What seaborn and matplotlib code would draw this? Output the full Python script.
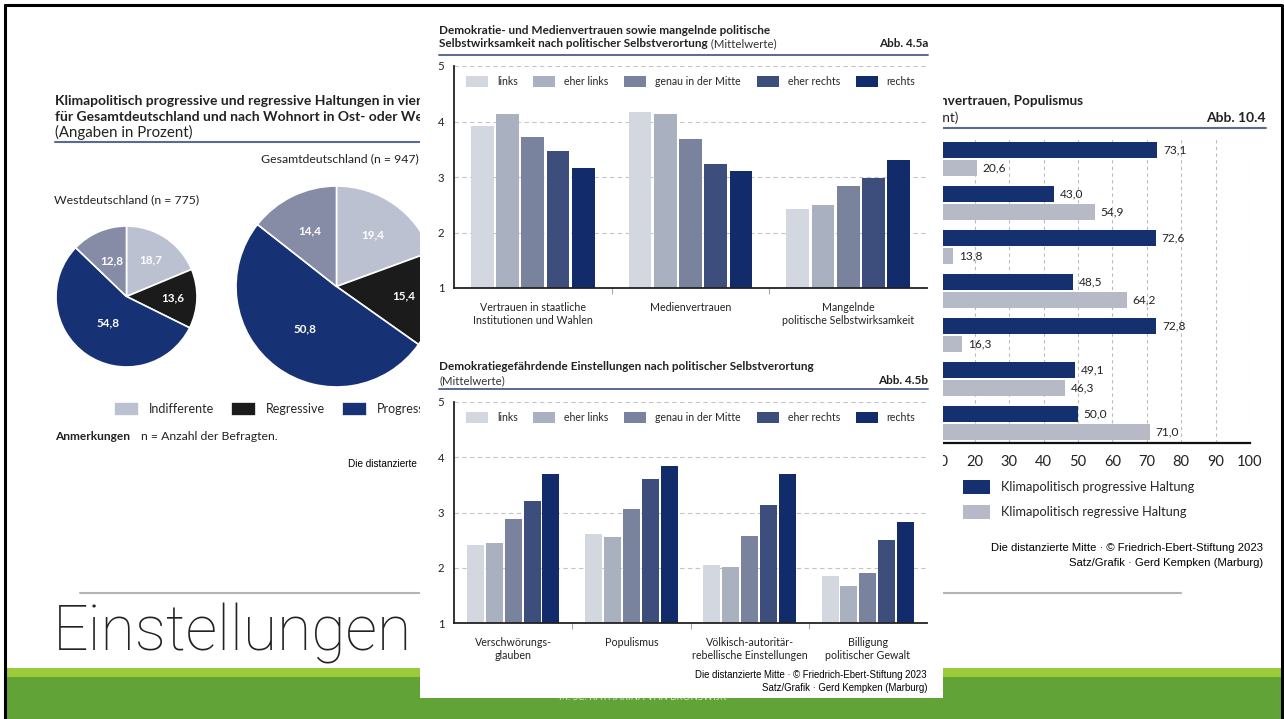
import seaborn as sns
import matplotlib.pyplot as plt
from matplotlib.patches import Rectangle
import pandas as pd
import numpy as np

W, H = 1284, 719

# ---- data -------------------------------------------------------------
pie_labels = ["Indifferente", "Regressive", "Progressive", "Ambivalente"]
pie_colors = ["#bcc1d1", "#1b1b1b", "#163274", "#868ca5"]
west_values = [18.7, 13.6, 54.8, 12.8]
gesamt_values = [19.4, 15.4, 50.8, 14.4]

positions = ["links", "eher links", "genau in der Mitte", "eher rechts", "rechts"]
pos_colors = ["#d3d8e0", "#a9b0c0", "#7a839e", "#3e4e7c", "#112b6b"]

trust_groups = ["Vertrauen in staatliche\nInstitutionen und Wahlen", "Medienvertrauen",
                "Mangelnde\npolitische Selbstwirksamkeit"]
trust_links = [3.91, 4.18, 2.43]
trust_eher_links = [4.14, 4.13, 2.49]
trust_mitte = [3.72, 3.68, 2.83]
trust_eher_rechts = [3.47, 3.24, 2.98]
trust_rechts = [3.16, 3.10, 3.31]

danger_groups = ["Verschwörungs-\nglauben", "Populismus",
                 "Völkisch-autoritär-\nrebellische Einstellungen", "Billigung\npolitischer Gewalt"]
danger_links = [2.41, 2.61, 2.05, 1.85]
danger_eher_links = [2.45, 2.56, 2.02, 1.67]
danger_mitte = [2.89, 3.06, 2.57, 1.91]
danger_eher_rechts = [3.21, 3.60, 3.13, 2.50]
danger_rechts = [3.70, 3.84, 3.69, 2.83]

klima_rows = ["Zeile 1", "Zeile 2", "Zeile 3", "Zeile 4", "Zeile 5", "Zeile 6", "Zeile 7"]
klima_attitudes = ["Klimapolitisch progressive Haltung", "Klimapolitisch regressive Haltung"]
klima_colors = ["#14306f", "#b5bac6"]
klima_progressive = [73.1, 43.0, 72.6, 48.5, 72.8, 49.1, 50.0]
klima_regressive = [20.6, 54.9, 13.8, 64.2, 16.3, 46.3, 71.0]

sns.set_theme(style="white")
plt.rcParams['font.family'] = ['Lato', 'DejaVu Sans']

TXT = "#222222"
RULE = "#5a6a90"
FOOT = ['Liberation Sans', 'DejaVu Sans']


def rect(x0, y0, x1, y1):
    # pixel box -> figure fraction
    return [x0 / W, 1 - y1 / H, (x1 - x0) / W, (y1 - y0) / H]


def de(v):
    return f"{v:.1f}".replace(".", ",")


fig = plt.figure(figsize=(W / 100, H / 100), dpi=100)

# slide background (pixel coordinates)
bg = fig.add_axes([0, 0, 1, 1], zorder=0)
bg.set_xlim(0, W)
bg.set_ylim(H, 0)
bg.axis('off')
left_clip = Rectangle((0, 0), 420, H, transform=bg.transData)
right_clip = Rectangle((943, 0), W - 943, H, transform=bg.transData)


def clip(artist, box):
    # the middle image covers these, keep them inside their own panel
    artist.set_clip_on(True)
    artist.set_clip_path(box)
    return artist


bg.add_patch(Rectangle((5, 668), 1276, 9, color="#9bcb3b", lw=0))
bg.add_patch(Rectangle((5, 677), 1276, 42, color="#62a338", lw=0))
bg.plot([4, 1282], [5, 5], color="black", lw=2.2, solid_capstyle='butt')
bg.plot([5, 5], [4, 719], color="black", lw=2.2, solid_capstyle='butt')
bg.plot([1281.5, 1281.5], [4, 719], color="black", lw=2.2, solid_capstyle='butt')
bg.plot([80, 1181], [593, 593], color="#b4b4b4", lw=1.5)
bg.text(53, 651, "Einstellungen", fontsize=45, family=['Roboto', 'DejaVu Sans'],
        fontweight='light', color=TXT, va='baseline')
bg.text(643, 698, "M. SC. KATHARINA VAN BRONSWIJK", fontsize=7, color="#d6eac2",
        ha='center', va='center')

# ---- left panel: pies ----------------------------------------------------
clip(bg.text(55, 101, "Klimapolitisch progressive und regressive Haltungen in vier Clustern",
             fontsize=10, fontweight='bold', color=TXT, va='center'), left_clip)
clip(bg.text(55, 117, "für Gesamtdeutschland und nach Wohnort in Ost- oder Westdeutschland",
             fontsize=10, fontweight='bold', color=TXT, va='center'), left_clip)
bg.text(55, 132, "(Angaben in Prozent)", fontsize=10.8, color=TXT, va='center')
bg.plot([55, 420], [142, 142], color=RULE, lw=1.5)
bg.text(419, 159, "Gesamtdeutschland (n = 947)", fontsize=8.8, color=TXT, ha='right', va='center')
bg.text(54, 200, "Westdeutschland (n = 775)", fontsize=8.8, color=TXT, va='center')
bg.text(55, 437, "Anmerkungen", fontsize=8.6, fontweight='bold', color=TXT, va='center')
bg.text(141, 437, "n = Anzahl der Befragten.", fontsize=8.8, color=TXT, va='center')
clip(bg.text(348, 464, "Die distanzierte Mitte", fontsize=7.2, family=FOOT, color="black",
             va='center'), left_clip)


def draw_pie(box, values, dists):
    ax = fig.add_axes(rect(*box), zorder=1)
    wedges, texts = ax.pie(values, labels=[de(v) for v in values], colors=pie_colors,
                           startangle=90, counterclock=False, labeldistance=0.6,
                           wedgeprops=dict(edgecolor="white", linewidth=1.2),
                           textprops=dict(color="white", fontsize=8.4, fontweight='bold'))
    for t, d in zip(texts, dists):
        x, y = t.get_position()
        t.set_position((x * d / 0.6, y * d / 0.6))
        t.set_ha('center')
        t.set_va('center')
    ax.set_xlim(-1, 1)
    ax.set_ylim(-1, 1)
    return ax, wedges


ax_w, w_wedges = draw_pie((56, 226, 197, 367), west_values, [0.62, 0.66, 0.45, 0.55])
ax_g, g_wedges = draw_pie((236, 186, 437, 387), gesamt_values, [0.63, 0.67, 0.52, 0.62])
leg = ax_w.legend(w_wedges[:3], pie_labels[:3], loc='center left',
                  bbox_to_anchor=(114 / W, 1 - 409 / H), bbox_transform=fig.transFigure,
                  ncol=3, frameon=False, fontsize=9, handlelength=2.0, handleheight=1.25,
                  handletextpad=0.8, columnspacing=1.35, borderpad=0, borderaxespad=0)
for t in leg.get_texts():
    clip(t, left_clip)

# ---- right panel: horizontal bars ---------------------------------------
clip(bg.text(1083, 101, "Institutionen- und Medienvertrauen, Populismus",
             fontsize=9.8, fontweight='bold', color=TXT, ha='right', va='center'), right_clip)
clip(bg.text(958, 118, "(Angaben in Prozent)", fontsize=9.8, color=TXT, ha='right',
             va='center'), right_clip)
bg.text(1266, 118, "Abb. 10.4", fontsize=10, fontweight='bold', color=TXT, ha='right', va='center')
bg.plot([943, 1266], [128, 128], color=RULE, lw=1.5)
bg.text(1263, 548, "Die distanzierte Mitte · © Friedrich-Ebert-Stiftung 2023",
        fontsize=8.1, family=FOOT, color="black", ha='right', va='center')
bg.text(1263, 563, "Satz/Grafik · Gerd Kempken (Marburg)",
        fontsize=8.1, family=FOOT, color="black", ha='right', va='center')

klima_df = pd.DataFrame({
    "Gruppe": klima_rows * 2,
    "Haltung": [klima_attitudes[0]] * len(klima_rows) + [klima_attitudes[1]] * len(klima_rows),
    "Anteil": klima_progressive + klima_regressive,
})
ax3 = fig.add_axes(rect(906, 138, 1250, 443), zorder=1)
sns.barplot(data=klima_df, x="Anteil", y="Gruppe", hue="Haltung", hue_order=klima_attitudes,
            palette=klima_colors, orient='h', width=0.82, gap=0.15, saturation=1,
            errorbar=None, linewidth=0, ax=ax3)
for cont, vals in zip(ax3.containers, [klima_progressive, klima_regressive]):
    ax3.bar_label(cont, labels=[de(v) for v in vals], padding=4, fontsize=8.6, color=TXT)
ax3.set_xlim(0, 100)
ax3.set_ylim(len(klima_rows) - 0.545, -0.477)
ax3.set_xticks(range(0, 101, 10))
ax3.set_yticks([])
ax3.set_xlabel("")
ax3.set_ylabel("")
ax3.xaxis.grid(True, ls=(0, (3, 3)), color="#bbbbbb", lw=0.8)
ax3.set_axisbelow(True)
sns.despine(ax=ax3, left=True)
ax3.spines['bottom'].set_color("#111111")
ax3.spines['bottom'].set_linewidth(1.6)
ax3.tick_params(axis='x', length=0, pad=9, labelsize=10.5, labelcolor=TXT)
sns.move_legend(ax3, 'upper left', bbox_to_anchor=(963 / W, 1 - 480 / H),
                bbox_transform=fig.transFigure, title=None, frameon=False, fontsize=9.2,
                handlelength=2.1, handleheight=1.3, handletextpad=0.9, labelspacing=0.85,
                borderpad=0, borderaxespad=0)

# ---- middle panel (on top) ----------------------------------------------
mid = fig.add_axes(rect(420, 15, 943, 698), zorder=2)
mid.set_xlim(420, 943)
mid.set_ylim(698, 15)
mid.axis('off')
mid.add_patch(Rectangle((420, 15), 523, 683, color="white", lw=0))

mid.text(439, 31, "Demokratie- und Medienvertrauen sowie mangelnde politische",
         fontsize=8.5, fontweight='bold', color=TXT, va='center')
t2 = mid.text(439, 44, "Selbstwirksamkeit nach politischer Selbstverortung",
              fontsize=8.5, fontweight='bold', color=TXT, va='center')
mid.annotate(" (Mittelwerte)", xy=(1, 0.5), xycoords=t2, va='center', fontsize=8.2, color="#333333")
mid.text(928, 44, "Abb. 4.5a", fontsize=8.5, fontweight='bold', color=TXT, ha='right', va='center')
mid.plot([439, 928], [55.5, 55.5], color=RULE, lw=1.4)

mid.text(439, 367, "Demokratiegefährdende Einstellungen nach politischer Selbstverortung",
         fontsize=8.5, fontweight='bold', color=TXT, va='center')
mid.text(439, 381, "(Mittelwerte)", fontsize=8.2, color="#333333", va='center')
mid.text(928, 381, "Abb. 4.5b", fontsize=8.5, fontweight='bold', color=TXT, ha='right', va='center')
mid.plot([439, 928], [389.5, 389.5], color=RULE, lw=1.4)
mid.text(927, 675, "Die distanzierte Mitte · © Friedrich-Ebert-Stiftung 2023",
         fontsize=6.9, family=FOOT, color="black", ha='right', va='center')
mid.text(927, 688, "Satz/Grafik · Gerd Kempken (Marburg)",
         fontsize=6.9, family=FOOT, color="black", ha='right', va='center')


def group_bars(box, groups, series):
    ax = fig.add_axes(rect(*box), zorder=3)
    df = pd.DataFrame({
        "Gruppe": [g for _ in positions for g in groups],
        "Selbstverortung": [p for p in positions for _ in groups],
        "Wert": [v for vals in series for v in vals],
    })
    sns.barplot(data=df, x="Gruppe", y="Wert", hue="Selbstverortung", order=groups,
                hue_order=positions, palette=pos_colors, width=0.8, gap=0.1,
                saturation=1, errorbar=None, linewidth=0, ax=ax)
    ax.set_ylim(1, 5)
    ax.set_xlim(-0.5, len(groups) - 0.5)
    ax.set_yticks([1, 2, 3, 4, 5])
    ax.set_xticks(np.arange(0.5, len(groups) - 1), minor=True)
    ax.set_xlabel("")
    ax.set_ylabel("")
    ax.yaxis.grid(True, ls=(0, (4, 3)), color="#c4c4c4", lw=0.8)
    ax.set_axisbelow(True)
    sns.despine(ax=ax)
    for s in ['left', 'bottom']:
        ax.spines[s].set_color("#222222")
        ax.spines[s].set_linewidth(1.3)
    ax.tick_params(axis='x', which='major', length=0, labelsize=7.7, labelcolor=TXT, pad=10)
    ax.tick_params(axis='y', length=0, labelsize=8.2, labelcolor=TXT, pad=7)
    ax.tick_params(axis='x', which='minor', length=4, width=0.8, color="#aaaaaa", bottom=True)
    sns.move_legend(ax, 'upper left', bbox_to_anchor=(0.025, 0.955), title=None, ncol=5,
                    frameon=False, fontsize=7.6, handlelength=2.08, handleheight=1.23,
                    handletextpad=0.85, columnspacing=1.5, borderpad=0, borderaxespad=0)
    return ax


group_bars((454, 66, 927, 288), trust_groups,
           [trust_links, trust_eher_links, trust_mitte, trust_eher_rechts, trust_rechts])
group_bars((454, 402, 927, 623), danger_groups,
           [danger_links, danger_eher_links, danger_mitte, danger_eher_rechts, danger_rechts])

fig.savefig("out.png", dpi=100)
